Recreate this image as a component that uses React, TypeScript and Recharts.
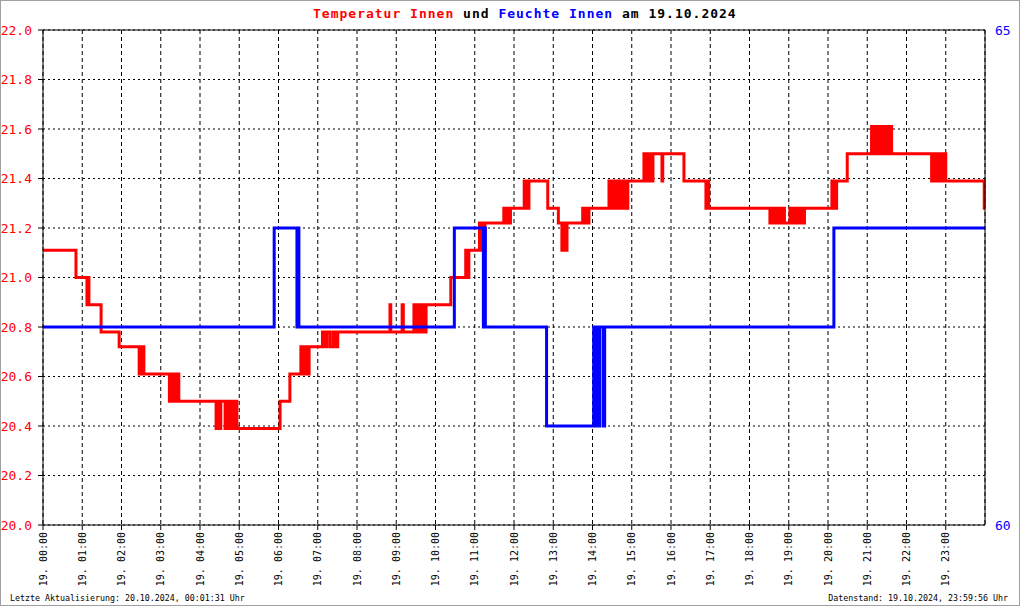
import { LineChart, Line, XAxis, YAxis, CartesianGrid, ReferenceLine } from "recharts";

const MONO = "'DejaVu Sans Mono', 'Liberation Mono', monospace";

// [Stunde, °C] – Zeitpunkte, an denen sich der Wert ändert
const tempSteps: [number, number][] = [
  [0, 21.11], [0.84, 21.0], [1.12, 20.89], [1.15, 21.0], [1.17, 20.89], [1.48, 20.78], [1.94, 20.72],
  [2.45, 20.61], [2.48, 20.72], [2.51, 20.61], [2.53, 20.72], [2.57, 20.61],
  [3.22, 20.5], [3.26, 20.61], [3.3, 20.5], [3.34, 20.61], [3.38, 20.5], [3.41, 20.61], [3.46, 20.5],
  [4.41, 20.39], [4.44, 20.5], [4.48, 20.39], [4.53, 20.5], [4.64, 20.39], [4.69, 20.5], [4.74, 20.39],
  [4.79, 20.5], [4.84, 20.39], [4.89, 20.5], [4.94, 20.39],
  [6.04, 20.5], [6.29, 20.61], [6.57, 20.72], [6.62, 20.61], [6.67, 20.72], [6.72, 20.61], [6.78, 20.72],
  [7.12, 20.78], [7.18, 20.72], [7.23, 20.78], [7.31, 20.72], [7.39, 20.78], [7.46, 20.72], [7.51, 20.78],
  [8.84, 20.89], [8.86, 20.78], [9.15, 20.89], [9.18, 20.78], [9.45, 20.89], [9.5, 20.78], [9.55, 20.89],
  [9.6, 20.78], [9.65, 20.89], [9.7, 20.78], [9.76, 20.89],
  [10.39, 21.0], [10.77, 21.11], [10.81, 21.0], [10.85, 21.11],
  [11.12, 21.22], [11.16, 21.11], [11.19, 21.22], [11.23, 21.11], [11.26, 21.22],
  [11.74, 21.28], [11.78, 21.22], [11.82, 21.28], [11.86, 21.22], [11.91, 21.28],
  [12.26, 21.39], [12.29, 21.28], [12.33, 21.39], [12.35, 21.28], [12.38, 21.39], [12.86, 21.28],
  [13.13, 21.22], [13.22, 21.11], [13.26, 21.22], [13.3, 21.11], [13.35, 21.22],
  [13.75, 21.28], [13.78, 21.22], [13.82, 21.28], [13.86, 21.22], [13.91, 21.28],
  [14.42, 21.39], [14.47, 21.28], [14.52, 21.39], [14.57, 21.28], [14.62, 21.39], [14.67, 21.28],
  [14.72, 21.39], [14.77, 21.28], [14.82, 21.39], [14.87, 21.28], [14.9, 21.39],
  [15.31, 21.5], [15.35, 21.39], [15.38, 21.5], [15.42, 21.39], [15.46, 21.5], [15.5, 21.39], [15.54, 21.5],
  [15.77, 21.39], [15.79, 21.5], [16.33, 21.39], [16.89, 21.28], [16.92, 21.39], [16.96, 21.28],
  [18.52, 21.22], [18.57, 21.28], [18.62, 21.22], [18.66, 21.28], [18.7, 21.22], [18.75, 21.28],
  [18.81, 21.22], [18.85, 21.28], [18.89, 21.22],
  [19.03, 21.28], [19.08, 21.22], [19.13, 21.28], [19.18, 21.22], [19.23, 21.28], [19.28, 21.22],
  [19.33, 21.28], [19.37, 21.22], [19.4, 21.28],
  [20.1, 21.39], [20.13, 21.28], [20.17, 21.39], [20.2, 21.28], [20.22, 21.39], [20.49, 21.5],
  [21.11, 21.61], [21.15, 21.5], [21.19, 21.61], [21.24, 21.5], [21.29, 21.61], [21.34, 21.5],
  [21.39, 21.61], [21.45, 21.5], [21.5, 21.61], [21.55, 21.5], [21.6, 21.61], [21.62, 21.5],
  [22.64, 21.39], [22.68, 21.5], [22.72, 21.39], [22.77, 21.5], [22.82, 21.39], [22.87, 21.5],
  [22.92, 21.39], [22.97, 21.5], [23.0, 21.39], [23.98, 21.28], [24, 21.28],
];

// [Stunde, %]
const humSteps: [number, number][] = [
  [0, 62], [5.89, 63], [6.47, 62], [6.5, 63], [6.52, 62], [10.48, 63], [11.22, 62], [11.25, 63], [11.27, 62],
  [12.83, 61], [14.03, 62], [14.06, 61], [14.09, 62], [14.11, 61], [14.14, 62], [14.16, 61], [14.19, 62],
  [14.28, 61], [14.31, 62], [20.15, 63], [24, 63],
];

const hourTicks = [0, 1, 2, 3, 4, 5, 6, 7, 8, 9, 10, 11, 12, 13, 14, 15, 16, 17, 18, 19, 20, 21, 22, 23];
const tempTicks = [20, 20.2, 20.4, 20.6, 20.8, 21, 21.2, 21.4, 21.6, 21.8, 22];
const humTicks = [60, 65];

const tempData = tempSteps.map(([h, t]) => ({ h, t }));
const humData = humSteps.map(([h, f]) => ({ h, f }));

function HourTick(props: any) {
  const { x, y, payload } = props;
  const hh = String(payload.value).padStart(2, "0");
  return (
    <text
      x={x}
      y={y}
      transform={`rotate(-90 ${x} ${y})`}
      textAnchor="end"
      dy="0.36em"
      fontSize={10}
      fontFamily={MONO}
      fill="#000"
    >
      {`19. ${hh}:00`}
    </text>
  );
}

export default function App() {
  return (
    <div style={{ position: "absolute", left: 0, top: 0, width: 1020, height: 606, background: "#fff" }}>
      <LineChart width={1020} height={606} margin={{ top: 30, right: 0, bottom: 0, left: 0 }}>
        <CartesianGrid yAxisId="t" vertical={false} stroke="#000" strokeDasharray="2 3" />
        <CartesianGrid yAxisId="t" horizontal={false} stroke="#000" strokeDasharray="4 3" />
        <XAxis
          type="number"
          dataKey="h"
          domain={[0, 24]}
          ticks={hourTicks}
          interval={0}
          height={81}
          tickSize={5}
          tickMargin={2}
          stroke="#000"
          tick={<HourTick />}
        />
        <YAxis
          yAxisId="t"
          domain={[20, 22]}
          ticks={tempTicks}
          width={43}
          tickSize={5}
          tickMargin={6}
          stroke="#000"
          tickFormatter={(v: number) => v.toFixed(1)}
          tick={{ fill: "#ff0000", fontSize: 13, fontFamily: MONO }}
        />
        <YAxis
          yAxisId="h"
          orientation="right"
          domain={[60, 65]}
          ticks={humTicks}
          width={35}
          tickLine={false}
          tickSize={0}
          tickMargin={10}
          stroke="#000"
          tick={{ fill: "#0000ff", fontSize: 13, fontFamily: MONO }}
        />
        <ReferenceLine yAxisId="t" y={22} stroke="#000" />
        <Line
          yAxisId="t"
          data={tempData}
          dataKey="t"
          type="stepAfter"
          stroke="#ff0000"
          strokeWidth={3}
          dot={false}
          isAnimationActive={false}
        />
        <Line
          yAxisId="h"
          data={humData}
          dataKey="f"
          type="stepAfter"
          stroke="#0000ff"
          strokeWidth={3}
          dot={false}
          isAnimationActive={false}
        />
      </LineChart>
      <svg
        width={1020}
        height={606}
        style={{ position: "absolute", left: 0, top: 0, pointerEvents: "none" }}
      >
        <text x={313} y={18} fontSize={13} fontWeight="bold" fontFamily={MONO} letterSpacing={1} style={{ whiteSpace: "pre" }}>
          <tspan fill="#ff0000">Temperatur Innen</tspan>
          <tspan fill="#000"> und </tspan>
          <tspan fill="#0000ff">Feuchte Innen</tspan>
          <tspan fill="#000"> am 19.10.2024</tspan>
        </text>
        <text x={10} y={601} fontSize={8.3} fontFamily={MONO} fill="#000">
          Letzte Aktualisierung: 20.10.2024, 00:01:31 Uhr
        </text>
        <text x={1008} y={601} fontSize={8.3} fontFamily={MONO} fill="#000" textAnchor="end">
          Datenstand: 19.10.2024, 23:59:56 Uhr
        </text>
        <rect x={0.5} y={0.5} width={1019} height={605} fill="none" stroke="#a0a0a0" />
      </svg>
    </div>
  );
}
